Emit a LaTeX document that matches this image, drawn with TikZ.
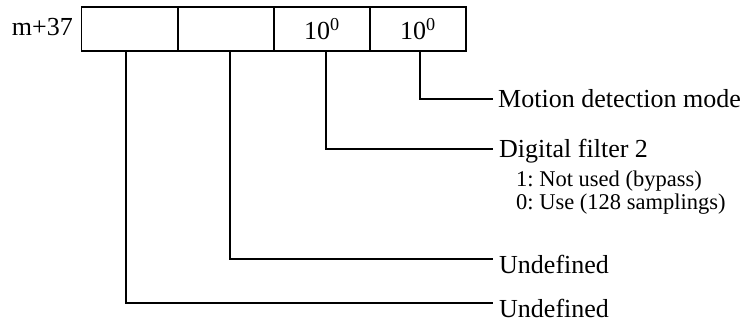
\documentclass[tikz,border=0pt]{standalone}
\usepackage{fontspec}
\setmainfont{Liberation Serif}
\frenchspacing
\begin{document}
\begin{tikzpicture}[x=1pt,y=-1pt,
  cell/.style={draw,line width=1.7pt,minimum width=96pt,minimum height=44pt,inner sep=0pt,font=\fontsize{26}{30}\selectfont},
  lab/.style={anchor=base west,inner sep=0pt,font=\fontsize{26}{30}\selectfont},
  sub/.style={anchor=base west,inner sep=0pt,font=\fontsize{22.5}{26}\selectfont},
  conn/.style={line width=1.7pt}]
\useasboundingbox (0,0) rectangle (751,322);
\node[cell] (c1) at (129.5,29) {};
\node[cell] (c2) at (226,29) {};
\node[cell] (c3) at (322,29) {\raisebox{-4pt}{10\textsuperscript{0}}};
\node[cell] (c4) at (418,29) {\raisebox{-4pt}{10\textsuperscript{0}}};
\node[anchor=base east,inner sep=0pt,font=\fontsize{26}{30}\selectfont] (addr) at (73,35) {m+37};
\node[lab] (motion) at (498,107) {Motion detection mode};
\node[lab] (filter) at (499,157) {Digital filter 2};
\node[sub] (s1) at (516,186) {1: Not used (bypass)};
\node[sub] (s2) at (516,209) {0: Use (128 samplings)};
\node[lab] (und1) at (499,273) {Undefined};
\node[lab] (und2) at (499,317) {Undefined};
\draw[conn] ([xshift=2pt]c4.south) |- ([xshift=-5pt,yshift=8pt]motion.base west);
\draw[conn] ([xshift=4pt]c3.south) |- ([xshift=-6pt,yshift=8pt]filter.base west);
\draw[conn] ([xshift=4pt]c2.south) |- ([xshift=-6pt,yshift=14pt]und1.base west);
\draw[conn] ([xshift=-3.5pt]c1.south) |- ([xshift=-6pt,yshift=14pt]und2.base west);
\end{tikzpicture}
\end{document}
